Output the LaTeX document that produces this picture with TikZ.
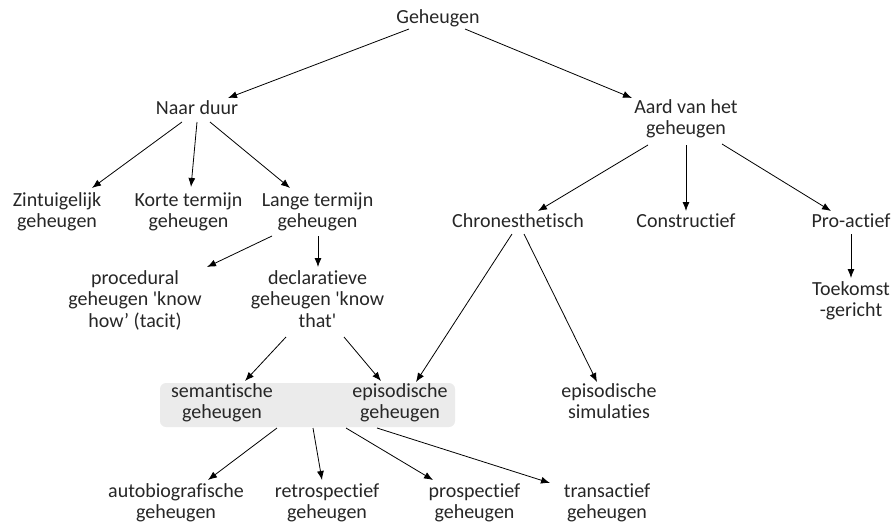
\documentclass[tikz,border=0pt]{standalone}
\usepackage{fontspec}
\setmainfont{Carlito}[Ligatures={NoCommon}]
\usetikzlibrary{arrows.meta,calc}
\newcommand{\sq}{\textquotesingle}
\begin{document}
\begin{tikzpicture}[
  x=1pt, y=-1pt,
  lbl/.style={align=center, inner sep=0pt, text=black!85,
    font=\fontsize{20}{21.5}\selectfont,
    execute at begin node=\strut, execute at end node=\strut},
  arr/.style={line width=0.8pt, -{Latex[length=9pt,width=7pt]}},
  group/.style={rectangle, rounded corners=6pt, fill=black!8, draw=none,
    minimum width=295pt, minimum height=44pt, inner sep=0pt}
]
\useasboundingbox (0,0) rectangle (895,525);

% grey band behind the two long-term memory kinds
\node[group] (grp) at (307.5,405) {};

% top levels
\node[lbl] (geh)    at (438,18.7)   {Geheugen};
\node[lbl] (naar)   at (197,109.7)  {Naar duur};
\node[lbl] (aard)   at (686,120.5)  {Aard van het\\geheugen};

% by duration
\node[lbl] (zin)    at (57,213.4)   {Zintuigelijk\\geheugen};
\node[lbl] (korte)  at (188.5,213.4){Korte termijn\\geheugen};
\node[lbl] (lange)  at (317.5,213.4){Lange termijn\\geheugen};

% by nature
\node[lbl] (chron)  at (518,222.7)  {Chronesthetisch};
\node[lbl] (constr) at (686,222.7)  {Constructief};
\node[lbl] (pro)    at (851,222.7)  {Pro-actief};
\node[lbl] (toek)   at (851,302.5)  {Toekomst\\-gericht};

% long-term split
\node[lbl] (proc)   at (135,302.2)  {procedural\\geheugen \sq know\\how’ (tacit)};
\node[lbl] (decl)   at (317.5,302.2){declaratieve\\geheugen \sq know\\that\sq};

% inside the band and beside it
\node[lbl] (sem)    at (222,404.5)  {semantische\\geheugen};
\node[lbl] (epi)    at (400,404.5)  {episodische\\geheugen};
\node[lbl] (sim)    at (609,404.5)  {episodische\\simulaties};

% bottom row
\node[lbl] (auto)   at (176,504.5)  {autobiografische\\geheugen};
\node[lbl] (retro)  at (327,504.5)  {retrospectief\\geheugen};
\node[lbl] (pros)   at (474.5,504.5){prospectief\\geheugen};
\node[lbl] (trans)  at (607,504.5)  {transactief\\geheugen};

% connectors
\draw[arr] ($(geh)+(-29,10.3)$)   -- ($(naar)+(31,-11.7)$);
\draw[arr] ($(geh)+(27,10.3)$)    -- ($(aard)+(-54,-22.5)$);

\draw[arr] ($(naar)+(-15,12.3)$)  -- ($(zin)+(35,-25.4)$);
\draw[arr] ($(naar)+(0,12.3)$)    -- ($(korte)+(2.5,-26.4)$);
\draw[arr] ($(naar)+(13,12.3)$)   -- ($(lange)+(-27.5,-25.4)$);

\draw[arr] ($(aard)+(-38,24.5)$)  -- ($(chron)+(20,-11.7)$);
\draw[arr] ($(aard)+(0,24.5)$)    -- ($(constr)+(0,-11.7)$);
\draw[arr] ($(aard)+(36,23.5)$)   -- ($(pro)+(-20,-11.7)$);
\draw[arr] ($(pro)+(0,11.3)$)     -- ($(toek)+(0,-24.5)$);

\draw[arr] ($(lange)+(-45.5,22.6)$) -- ($(proc)+(72,-35.2)$);
\draw[arr] ($(lange)+(0.5,22.6)$)   -- ($(decl)+(0.5,-35.2)$);

\draw[arr] ($(chron)+(-6,11.3)$)  -- ($(epi)+(16,-22.5)$);
\draw[arr] ($(chron)+(6,11.3)$)   -- ($(sim)+(-12,-22.5)$);

\draw[arr] ($(decl)+(-31.5,34.8)$) -- ($(sem)+(23,-23.5)$);
\draw[arr] ($(decl)+(26.5,34.8)$)  -- ($(epi)+(-19,-23.5)$);

\draw[arr] ($(grp)+(-30.5,23)$)   -- ($(auto)+(32,-24.5)$);
\draw[arr] ($(grp)+(5.5,23)$)     -- ($(retro)+(-5,-24.5)$);
\draw[arr] ($(grp)+(38.5,23)$)    -- ($(pros)+(-41.5,-24.5)$);
\draw[arr] ($(grp)+(69.5,23)$)    -- ($(trans)+(-57,-21.5)$);
\end{tikzpicture}
\end{document}
